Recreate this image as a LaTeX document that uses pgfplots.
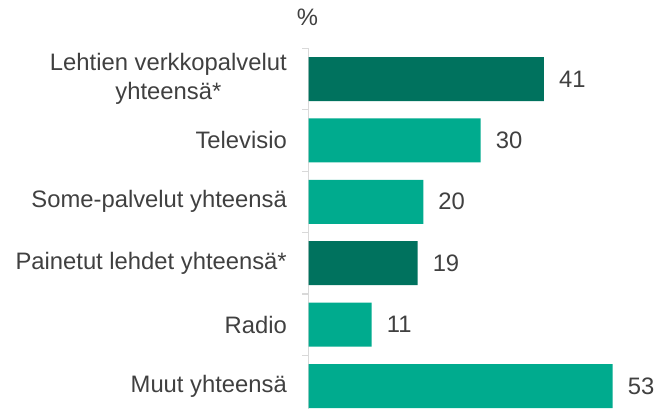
\documentclass[border=0pt]{standalone}
\usepackage{pgfplots}
\pgfplotsset{compat=1.18}
\usepackage{fontspec}
\setmainfont{Liberation Sans}
\definecolor{txt}{RGB}{64,64,64}
\definecolor{dark}{RGB}{0,114,94}
\definecolor{light}{RGB}{0,171,142}
\definecolor{axgray}{RGB}{217,217,217}
\begin{document}
\begin{tikzpicture}
\begin{axis}[
  at={(308.5pt,-48.3pt)}, anchor=north west,
  scale only axis, width=344.4pt, height=368.4pt,
  xbar, bar width=44pt, bar shift=0pt,
  xmin=0, xmax=60, ymin=-0.5, ymax=5.5, y dir=reverse,
  axis x line=none,
  axis y line*=left,
  /pgf/number format/assume math mode=true,
  y axis line style={draw=axgray, line width=1.2pt},
  ytick={0,...,5},
  yticklabels={{Lehtien verkkopalvelut\\yhteensä*},{Televisio},{Some-palvelut yhteensä},{Painetut lehdet yhteensä*},{Radio},{Muut yhteensä}},
  minor ytick={-0.5,0.5,...,5.5},
  major tick length=0pt, minor tick length=6pt,
  tick align=outside,
  minor tick style={draw=axgray, line width=1.2pt},
  major tick style={draw=none},
  yticklabel style={font=\fontsize{23.8}{29}\selectfont, text=txt, align=center, inner sep=0pt, xshift=-21.5pt},
  nodes near coords,
  point meta=x,
  nodes near coords style={font=\fontsize{23.8}{29}\selectfont, text=txt, anchor=west, inner sep=0pt, xshift=15pt},
  clip=false,
]
\addplot[fill=dark, draw=none] coordinates {(41,0) (19,3)};
\addplot[fill=light, draw=none] coordinates {(30,1) (20,2) (11,4) (53,5)};
\node[font=\fontsize{23.8}{29}\selectfont, text=txt, inner sep=0pt] at (rel axis cs:0,1) [xshift=-1pt, yshift=31pt] {\%};
\end{axis}
\pgfresetboundingbox
\path[use as bounding box] (0pt,0pt) rectangle (656pt,-409pt);
\end{tikzpicture}
\end{document}
